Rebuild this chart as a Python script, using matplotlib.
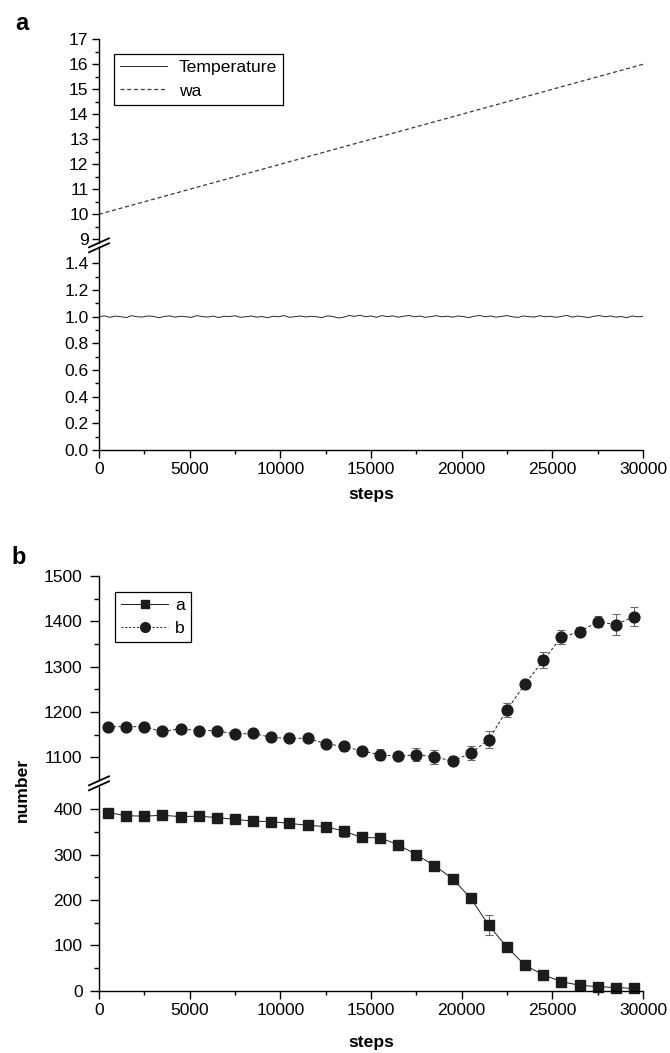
import matplotlib
matplotlib.use('Agg')
import matplotlib.pyplot as plt
import numpy as np
from matplotlib.lines import Line2D
from matplotlib.ticker import MultipleLocator, FixedLocator

plt.rcParams['font.family'] = ['Liberation Sans', 'DejaVu Sans']

# ---------------- data ----------------
# panel a
steps_a = np.arange(0, 30001, 300)
temperature = [1.000, 1.007, 0.996, 1.005, 1.001, 0.994, 1.008, 1.000, 0.998, 1.006,
               1.003, 0.993, 1.002, 1.007, 0.997, 1.004, 1.000, 0.996, 1.009, 1.001,
               0.998, 1.005, 0.994, 1.004, 1.001, 1.008, 0.996, 1.000, 1.006, 0.997,
               1.002, 0.993, 1.004, 1.000, 1.009, 0.996, 1.001, 1.006, 0.998, 1.004,
               1.000, 0.994, 1.007, 1.002, 0.991, 0.997, 1.010, 1.003, 1.012, 1.000,
               1.006, 0.996, 1.009, 1.001, 1.007, 0.997, 1.004, 1.010, 1.000, 1.005,
               0.996, 1.002, 1.008, 1.000, 1.004, 0.997, 1.006, 1.001, 0.994, 1.004,
               1.010, 1.000, 1.006, 0.997, 1.003, 1.009, 1.000, 0.995, 1.006, 1.001,
               0.998, 1.008, 1.000, 1.004, 0.996, 1.002, 1.011, 0.997, 1.006, 1.000,
               0.994, 1.004, 1.009, 1.000, 1.006, 0.997, 1.002, 0.993, 1.006, 1.000, 1.003]
wa_steps = [0, 30000]
wa_values = [10, 16]

# panel b
steps_b = [500, 1500, 2500, 3500, 4500, 5500, 6500, 7500, 8500, 9500,
           10500, 11500, 12500, 13500, 14500, 15500, 16500, 17500, 18500, 19500,
           20500, 21500, 22500, 23500, 24500, 25500, 26500, 27500, 28500, 29500]
a_values = [393, 386, 385, 387, 384, 385, 382, 378, 374, 373,
            369, 365, 362, 352, 338, 337, 322, 300, 276, 247,
            204, 144, 96, 56, 35, 20, 12, 9, 7, 5]
a_err = [3, 3, 3, 3, 3, 3, 3, 3, 3, 3,
         3, 3, 3, 12, 4, 3, 6, 4, 7, 3,
         8, 22, 5, 3, 3, 3, 3, 3, 3, 3]
b_values = [1167, 1168, 1167, 1157, 1163, 1159, 1159, 1151, 1153, 1144,
            1142, 1142, 1130, 1124, 1114, 1106, 1102, 1106, 1101, 1092,
            1109, 1139, 1205, 1262, 1314, 1365, 1377, 1399, 1393, 1410]
b_err = [4, 4, 4, 4, 4, 4, 4, 4, 4, 4,
         4, 4, 4, 10, 4, 12, 5, 14, 15, 10,
         15, 18, 15, 4, 18, 15, 10, 12, 24, 21]

# ---------------- layout ----------------
W, H = 670, 1053
fig = plt.figure(figsize=(W / 100, H / 100), dpi=100)
FS = 12.6
LEFT, RIGHT = 99, 643


def add_ax(top, bottom):
    return fig.add_axes([LEFT / W, 1 - bottom / H, (RIGHT - LEFT) / W, (bottom - top) / H])


def style(ax, bottom_axis, ymaj_len, ypad):
    for s in ('top', 'right'):
        ax.spines[s].set_visible(False)
    ax.spines['left'].set_linewidth(1.0)
    ax.spines['bottom'].set_linewidth(1.0)
    ax.tick_params(which='major', direction='out', width=1.0, labelsize=FS, color='black')
    ax.tick_params(which='minor', direction='out', width=1.0, color='black')
    ax.tick_params(axis='y', which='major', length=ymaj_len, pad=ypad)
    ax.tick_params(axis='y', which='minor', length=ymaj_len * 0.55)
    ax.tick_params(axis='x', which='major', length=5.5, pad=3)
    ax.tick_params(axis='x', which='minor', length=3)
    ax.set_xlim(0, 30000)
    if bottom_axis:
        ax.xaxis.set_major_locator(MultipleLocator(5000))
        ax.xaxis.set_minor_locator(FixedLocator([2500, 7500, 12500, 17500, 22500, 27500]))
    else:
        ax.spines['bottom'].set_visible(False)
        ax.tick_params(axis='x', which='both', bottom=False, labelbottom=False)
    ax.patch.set_alpha(0)


def brk(yc):
    for dy in (-2.5, 2.5):
        fig.add_artist(Line2D([89 / W, 109 / W],
                              [1 - (yc + dy + 4.5) / H, 1 - (yc + dy - 4.5) / H],
                              color='black', lw=1.3, transform=fig.transFigure))


# ---------------- panel a ----------------
ax_au = add_ax(39.3, 243)
ax_al = add_ax(247.5, 450)
style(ax_au, False, 5, 2.5)
style(ax_al, True, 5, 2.5)

ax_au.set_ylim(8.85, 17)
ax_au.yaxis.set_major_locator(FixedLocator(list(range(9, 18))))
ax_au.yaxis.set_minor_locator(FixedLocator([9.5, 10.5, 11.5, 12.5, 13.5, 14.5, 15.5, 16.5]))
ax_al.set_ylim(0, 1.52)
ax_al.yaxis.set_major_locator(FixedLocator([0, 0.2, 0.4, 0.6, 0.8, 1.0, 1.2, 1.4]))
ax_al.yaxis.set_minor_locator(FixedLocator([0.1, 0.3, 0.5, 0.7, 0.9, 1.1, 1.3]))
ax_al.yaxis.set_major_formatter(matplotlib.ticker.FormatStrFormatter('%.1f'))

l_wa, = ax_au.plot(wa_steps, wa_values, ls=(0, (3.2, 2.2)), color='#3a3a3a', lw=0.9, label='wa')
l_t, = ax_al.plot(steps_a, temperature, color='#2a2a2a', lw=0.7, label='Temperature')
brk(245.3)

fig.legend(handles=[l_t, l_wa], labels=['Temperature', 'wa'], loc='upper left',
           bbox_to_anchor=(114 / W, 1 - 54 / H), bbox_transform=fig.transFigure,
           borderaxespad=0, fontsize=FS, frameon=True, fancybox=False,
           edgecolor='black', framealpha=1, handlelength=2.7, handletextpad=0.65,
           labelspacing=0.45, borderpad=0.35).get_frame().set_linewidth(0.9)

fig.text(22 / W, 1 - 24 / H, 'a', fontsize=17, fontweight='bold', ha='center', va='center')
fig.text(371 / W, 1 - 494 / H, 'steps', fontsize=FS, fontweight='bold', ha='center', va='center')

# ---------------- panel b ----------------
ax_bu = add_ax(576, 780)
ax_bl = add_ax(786.7, 990.7)
style(ax_bu, False, 6.3, 5.5)
style(ax_bl, True, 6.3, 5.5)

ax_bu.set_ylim(1050, 1500)
ax_bu.yaxis.set_major_locator(FixedLocator([1100, 1200, 1300, 1400, 1500]))
ax_bu.yaxis.set_minor_locator(FixedLocator([1150, 1250, 1350, 1450]))
ax_bl.set_ylim(0, 450)
ax_bl.yaxis.set_major_locator(FixedLocator([0, 100, 200, 300, 400]))
ax_bl.yaxis.set_minor_locator(FixedLocator([50, 150, 250, 350]))

ax_bl.errorbar(steps_b, a_values, yerr=a_err, ls='-', marker='s', ms=6.5,
               color='#1c1c1c', lw=0.7, ecolor='#6a6a6a', elinewidth=0.8,
               capsize=3, capthick=0.8, clip_on=False, label='a')
ax_bu.errorbar(steps_b, b_values, yerr=b_err, ls=(0, (3, 2.2)), marker='o', ms=7.8,
               color='#1c1c1c', lw=0.7, ecolor='#6a6a6a', elinewidth=0.8,
               capsize=3, capthick=0.8, clip_on=False, label='b')
brk(783.3)

ha = Line2D([], [], color='#1c1c1c', lw=0.7, marker='s', ms=6)
hb = Line2D([], [], color='#1c1c1c', lw=0.7, ls=(0, (2, 2)), marker='o', ms=7)
fig.legend(handles=[ha, hb], labels=['a', 'b'], loc='upper left',
           bbox_to_anchor=(115 / W, 1 - 592 / H), bbox_transform=fig.transFigure,
           borderaxespad=0, fontsize=FS, frameon=True, fancybox=False,
           edgecolor='black', framealpha=1, handlelength=2.7, handletextpad=0.4,
           labelspacing=0.4, borderpad=0.35).get_frame().set_linewidth(0.9)

fig.text(19 / W, 1 - 558 / H, 'b', fontsize=17, fontweight='bold', ha='center', va='center')
fig.text(371 / W, 1 - 1042 / H, 'steps', fontsize=FS, fontweight='bold', ha='center', va='center')
fig.text(22 / W, 1 - 790 / H, 'number', fontsize=FS, fontweight='bold', ha='center',
         va='center', rotation=90)

fig.savefig('out.png', dpi=100)
